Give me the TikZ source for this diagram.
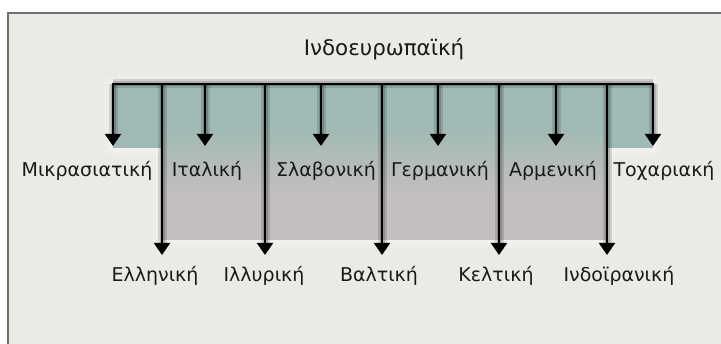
\documentclass[tikz,border=0pt]{standalone}
\usepackage{fontspec}
\setmainfont{DejaVu Sans}
\usetikzlibrary{arrows.meta}
\definecolor{bgc}{HTML}{EBEAE4}
\definecolor{framec}{HTML}{6E6E6E}
\definecolor{tealc}{HTML}{9FBAB4}
\definecolor{mauvec}{HTML}{C3BEBF}
\definecolor{txtc}{HTML}{1A1A1A}
\tikzset{
  lab/.style={anchor=base, inner sep=0pt, text=txtc, font=\fontsize{19}{19}\selectfont},
  ttl/.style={anchor=base, inner sep=0pt, text=txtc, font=\fontsize{21.4}{21.4}\selectfont},
  conn/.style={draw=black, line width=2pt},
  arr/.style={conn, -{Triangle[width=16pt,length=12pt]}},
  shd/.style={draw=black, line width=9pt, opacity=0.13, shift={(4pt,-3pt)}},
  shd2/.style={draw=black, line width=5pt, opacity=0.16, shift={(3pt,-2pt)}}
}
\begin{document}
\begin{tikzpicture}[x=1pt,y=-1pt]
\useasboundingbox (0,0) rectangle (721,344);
\fill[white] (0,0) rectangle (721,344);
\fill[bgc] (8,13) rectangle (721,344);
\draw[framec, line width=1.5pt] (8,344) -- (8,13) -- (721,13);

% glow
\foreach \w/\o in {9/0.12,6/0.15,3/0.2}{
  \fill[white, opacity=\o, rounded corners=\w] (113-\w,84-\w) rectangle (653+\w,148+\w);
  \fill[white, opacity=\o, rounded corners=\w] (162-\w,148) rectangle (607+\w,240+\w);
}
% shaded regions
\fill[tealc] (113,84) rectangle (653,148);
\fill[mauvec] (162,84) rectangle (607,240);
\shade[top color=tealc, bottom color=mauvec] (162,124) rectangle (607,192);
\fill[tealc] (162,84) rectangle (607,125);

% coordinates
\foreach \n/\x in {1/113,2/205,3/321,4/438,5/556,6/653}{
  \coordinate (s\n) at (\x,84);
  \coordinate (st\n) at (\x,146);
}
\foreach \n/\x in {1/162,2/265,3/382,4/499,5/607}{
  \coordinate (l\n) at (\x,84);
  \coordinate (lt\n) at (\x,255);
}

% shadows
\foreach \s in {shd,shd2}{
  \draw[\s] (s1) -- (s6);
  \foreach \n in {1,...,6}{ \draw[\s] (s\n) -- ([yshift=6pt]st\n); }
  \foreach \n in {1,...,5}{ \draw[\s] (l\n) -- ([yshift=6pt]lt\n); }
}

% connectors
\draw[conn, line cap=rect] (s1) -- (s6);
\foreach \n in {1,...,6}{ \draw[arr] (s\n) -- (st\n); }
\foreach \n in {1,...,5}{ \draw[arr] (l\n) -- (lt\n); }

% labels
\node[ttl] (root) at (384,56) {Ινδοευρωπαϊκή};
\node[lab] (m1) at (87,177) {Μικρασιατική};
\node[lab] (m2) at (207,177) {Ιταλική};
\node[lab] (m3) at (326,177) {Σλαβονική};
\node[lab] (m4) at (440,177) {Γερμανική};
\node[lab] (m5) at (553,177) {Αρμενική};
\node[lab] (m6) at (664,177) {Τοχαριακή};
\node[lab] (b1) at (155,282) {Ελληνική};
\node[lab] (b2) at (264,282) {Ιλλυρική};
\node[lab] (b3) at (379,282) {Βαλτική};
\node[lab] (b4) at (496,282) {Κελτική};
\node[lab] (b5) at (619,282) {Ινδοϊρανική};
\end{tikzpicture}
\end{document}
